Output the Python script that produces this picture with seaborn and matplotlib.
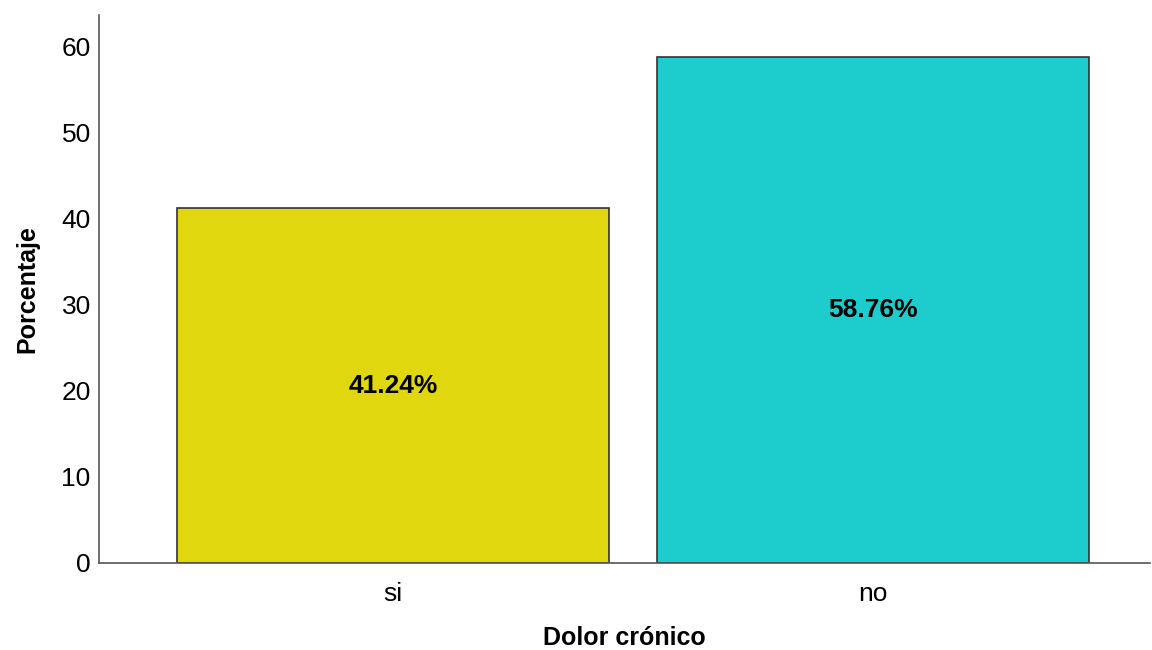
import matplotlib
matplotlib.use("Agg")
import matplotlib.pyplot as plt
import seaborn as sns
import pandas as pd

# Data
categorias = ["si", "no"]
porcentajes = [41.24, 58.76]
colores = ["#E1D70F", "#1DCDCD"]

sns.set_style("white")
plt.rcParams['font.family'] = ['Liberation Sans', 'DejaVu Sans']
plt.rcParams['text.color'] = 'black'
plt.rcParams['axes.labelcolor'] = 'black'
plt.rcParams['xtick.color'] = 'black'
plt.rcParams['ytick.color'] = 'black'

df = pd.DataFrame({"Dolor crónico": categorias, "Porcentaje": porcentajes})

fig = plt.figure(figsize=(11.52, 6.5), dpi=100)
ax = fig.add_axes([0.086, 0.134, 0.912, 0.843])

sns.barplot(data=df, x="Dolor crónico", y="Porcentaje", hue="Dolor crónico",
            palette=colores, saturation=1, width=0.9, edgecolor="#333333",
            linewidth=1.2, legend=False, ax=ax)

# percentage label in the middle of each bar
for i, v in enumerate(porcentajes):
    ax.text(i, v / 2, f"{v:.2f}%", ha="center", va="center",
            fontsize=19, fontweight="bold", color="black")

ax.set_xlim(-0.6125, 1.577)
ax.set_ylim(0, 63.7)
ax.set_yticks([0, 10, 20, 30, 40, 50, 60])
ax.tick_params(axis="x", labelsize=19, length=0, pad=14)
ax.tick_params(axis="y", labelsize=19, length=0, pad=6)
ax.set_xlabel("Dolor crónico", fontsize=18, fontweight="bold", labelpad=14)
ax.set_ylabel("Porcentaje", fontsize=18, fontweight="bold", labelpad=16)

for s in ["top", "right"]:
    ax.spines[s].set_visible(False)
for s in ["left", "bottom"]:
    ax.spines[s].set_color("#555555")
    ax.spines[s].set_linewidth(1.2)

fig.savefig("out.png", dpi=100)
